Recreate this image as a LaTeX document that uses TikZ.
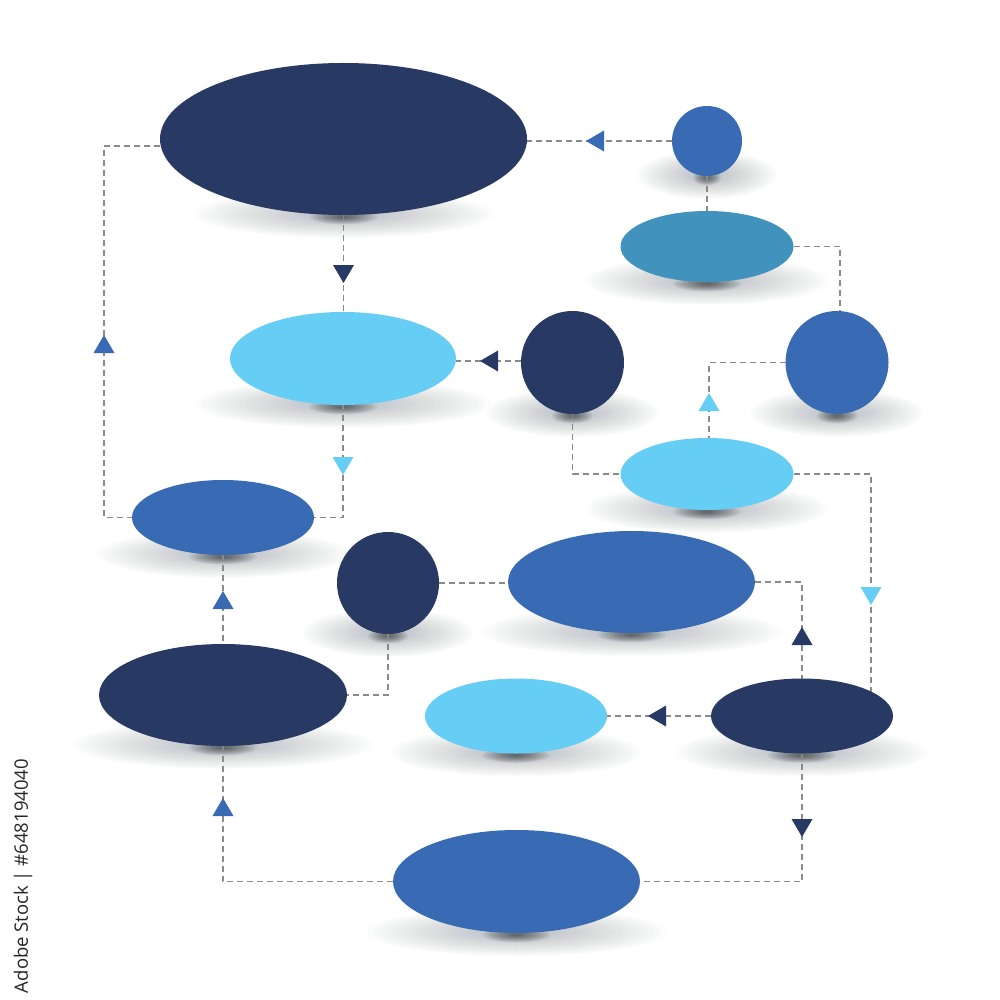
\documentclass[tikz,border=0pt]{standalone}
\usepackage{fontspec}
\newfontfamily\wmfont{Open Sans}
\usetikzlibrary{shapes.geometric}
\definecolor{cdark}{HTML}{283A64}
\definecolor{cblue}{HTML}{386BB4}
\definecolor{cteal}{HTML}{4193BD}
\definecolor{clight}{HTML}{66CDF5}
\definecolor{cline}{HTML}{8A8A8A}
\definecolor{cshadow}{HTML}{3A5562}
\pgfdeclarelayer{back}
\pgfdeclarelayer{bg}
\pgfsetlayers{back,bg,main}
\tikzset{
  blob/.style={ellipse, inner sep=0pt, outer sep=0pt, draw=none},
  conn/.style={draw=cline, line width=1.2pt, dash pattern=on 6pt off 4pt},
  halo/.style={fill=cshadow, opacity=0.015},
  core/.style={fill=black, opacity=0.05},
}
% name, cx, cy, width, height, colour
\newcommand\blob[6]{%
  \node[blob, fill=#6, minimum width=#4pt, minimum height=#5pt] (#1) at (#2,#3) {};
  \begin{pgfonlayer}{bg}
    \foreach \k in {1,...,24}{%
      \fill[halo] (#2,#3+#5/2-1) ellipse [x radius={min(0.5*#4+35,150)*\k/24}, y radius={24*\k/24}];}
    \foreach \k in {1,...,12}{%
      \fill[core] (#2,#3+#5/2+2) ellipse [x radius={min(0.2*#4,34)*\k/12}, y radius={7.5*\k/12}];}
  \end{pgfonlayer}}
\newcommand\triup[3]{\fill[#1] (#2,#3) ++(-10.5,9) -- ++(21,0) -- ++(-10.5,-18) -- cycle;}
\newcommand\tridown[3]{\fill[#1] (#2,#3) ++(-10.5,-9) -- ++(21,0) -- ++(-10.5,18) -- cycle;}
\newcommand\trileft[3]{\fill[#1] (#2,#3) ++(9,-10.5) -- ++(0,21) -- ++(-18,-10.5) -- cycle;}
\begin{document}
\begin{tikzpicture}[x=1pt,y=-1pt]
\begin{pgfonlayer}{back}
\fill[white] (0,0) rectangle (1000,1000);
\end{pgfonlayer}
\useasboundingbox (0,0) rectangle (1000,1000);
% shapes
\blob{big}{343.5}{139}{367}{152}{cdark}
\blob{ctop}{707}{141}{70}{70}{cblue}
\blob{teal}{707}{246.5}{173}{71}{cteal}
\blob{lone}{343}{358.5}{226}{93}{clight}
\blob{cmid}{572.5}{362.5}{103}{103}{cdark}
\blob{cright}{837}{362.5}{103}{103}{cblue}
\blob{ltwo}{707}{474}{173}{72}{clight}
\blob{bleft}{223}{517.5}{182}{75}{cblue}
\blob{clow}{388}{583}{102}{102}{cdark}
\blob{bmid}{631.5}{582}{247}{102}{cblue}
\blob{dleft}{223}{695}{248}{102}{cdark}
\blob{lthree}{516}{716}{182}{75}{clight}
\blob{dright}{802}{716}{182}{75}{cdark}
\blob{bbot}{516.5}{881.5}{247}{103}{cblue}
% connectors
\begin{pgfonlayer}{bg}
\draw[conn] ([yshift=-7pt]big.west) -- ++(-56,0) |- (bleft.west);
\draw[conn] (ctop.west) -- (ctop.west -| big.east);
\draw[conn] (ctop.south) -- (teal.north);
\draw[conn] (teal.east) -| ([xshift=3pt]cright.north);
\draw[conn] (big.south) -- (big.south |- lone.north);
\draw[conn] ([yshift=1.5pt]cmid.west) -- ([yshift=1.5pt]cmid.west -| lone.east);
\draw[conn] (cright.west) -| ([xshift=2pt]ltwo.north);
\draw[conn] (cmid.south) |- (ltwo.west);
\draw[conn] (ltwo.east) -| ([xshift=69pt]dright.center);
\draw[conn] (lone.south) |- (bleft.east);
\draw[conn] (bleft.south) -- (dleft.north);
\draw[conn] (clow.east) -- (clow.east -| bmid.west);
\draw[conn] (clow.south) |- (dleft.east);
\draw[conn] (bmid.east) -| (dright.north);
\draw[conn] (dright.west) -- (lthree.east);
\draw[conn] (dright.south) |- (bbot.east);
\draw[conn] (bbot.west) -| (dleft.south);
\end{pgfonlayer}
% direction marks
\triup{cblue}{104}{344}
\trileft{cblue}{595}{141}
\tridown{cdark}{343.5}{274}
\trileft{cdark}{489}{361}
\triup{clight}{709}{402}
\tridown{clight}{343}{466}
\tridown{clight}{871}{596}
\triup{cblue}{223}{600}
\triup{cdark}{802}{636}
\trileft{cdark}{657}{716}
\tridown{cdark}{802}{828}
\triup{cblue}{223}{807}
% side text
\node[rotate=90, font=\wmfont\fontsize{18.5}{22}\selectfont, text=black!85, inner sep=0pt] (wm) at (23,876) {Adobe Stock | \#648194040};
\end{tikzpicture}
\end{document}
